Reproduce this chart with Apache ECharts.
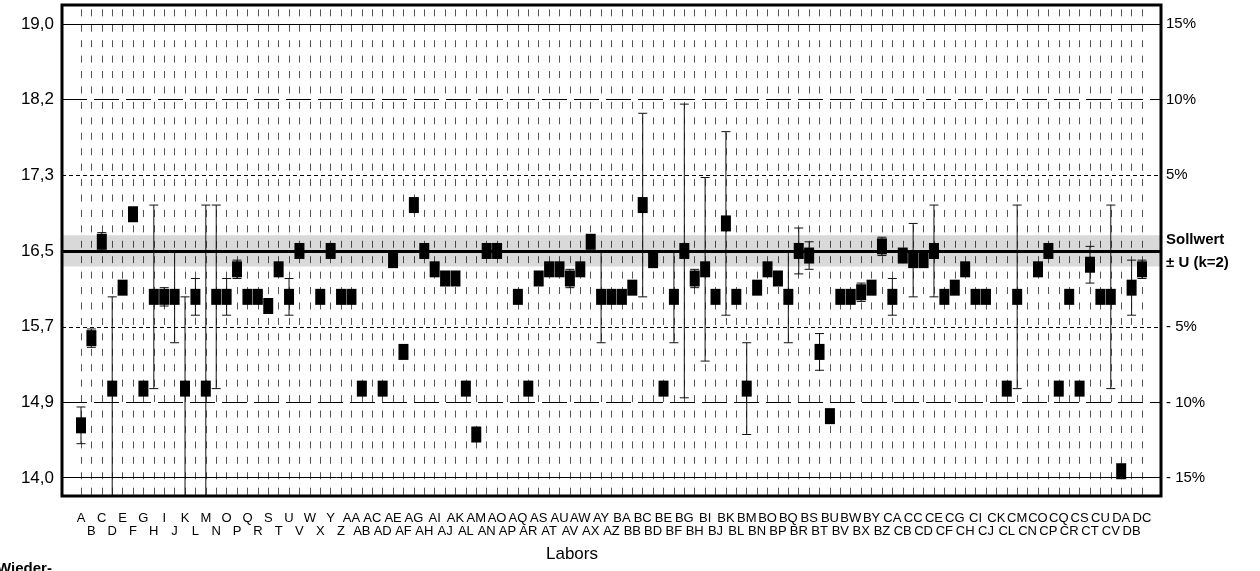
<!DOCTYPE html>
<html>
<head>
<meta charset="utf-8">
<title>Labors</title>
<script src="https://cdn.jsdelivr.net/npm/echarts@6.0.0/dist/echarts.min.js"></script>
<style>
  html, body { margin: 0; padding: 0; background: #fff; }
  #chart { width: 1260px; height: 571px; }
</style>
</head>
<body>
<div id="chart"></div>
<script>
// labs (categories)
const labs = [
  'A','B','C','D','E','F','G','H','I','J','K','L','M','N','O','P','Q','R','S','T','U','V','W','X','Y','Z',
  'AA','AB','AC','AD','AE','AF','AG','AH','AI','AJ','AK','AL','AM','AN','AO','AP','AQ','AR','AS','AT','AU','AV','AW','AX','AY','AZ',
  'BA','BB','BC','BD','BE','BF','BG','BH','BI','BJ','BK','BL','BM','BN','BO','BP','BQ','BR','BS','BT','BU','BV','BW','BX','BY','BZ',
  'CA','CB','CC','CD','CE','CF','CG','CH','CI','CJ','CK','CL','CM','CN','CO','CP','CQ','CR','CS','CT','CU','CV',
  'DA','DB','DC'
]

// measured value per lab (null = no result)
const values = [
  14.6, 15.55, 16.6, 15.0, 16.1, 16.9, 15.0, 16.0, 16.0, 16.0, 15.0, 16.0, 15.0, 16.0, 16.0, 16.3, 16.0, 16.0, 15.9, 16.3, 16.0, 16.5, null, 16.0, 16.5, 16.0,
  16.0, 15.0, null, 15.0, 16.4, 15.4, 17.0, 16.5, 16.3, 16.2, 16.2, 15.0, 14.5, 16.5, 16.5, null, 16.0, 15.0, 16.2, 16.3, 16.3, 16.2, 16.3, 16.6, 16.0, 16.0,
  16.0, 16.1, 17.0, 16.4, 15.0, 16.0, 16.5, 16.2, 16.3, 16.0, 16.8, 16.0, 15.0, 16.1, 16.3, 16.2, 16.0, 16.5, 16.45, 15.4, 14.7, 16.0, 16.0, 16.05, 16.1, 16.55,
  16.0, 16.45, 16.4, 16.4, 16.5, 16.0, 16.1, 16.3, 16.0, 16.0, null, 15.0, 16.0, null, 16.3, 16.5, 15.0, 16.0, 15.0, 16.35, 16.0, 16.0,
  14.1, 16.1, 16.3
]

// lower / upper end of the lab's uncertainty bar (null = none)
const lower = [
  14.4, 15.45, 16.5, 13.0, null, null, null, 15.0, 15.9, 15.5, 13.0, 15.8, 13.0, 15.0, 15.8, 16.2, null, null, null, null, 15.8, null, null, null, null, null,
  null, null, null, null, null, null, null, null, null, null, null, null, null, null, null, null, null, null, null, null, null, 16.1, null, null, 15.5, null,
  null, null, 16.0, null, null, 15.5, 14.9, 16.1, 15.3, null, 15.8, null, 14.5, null, null, null, 15.5, 16.25, 16.3, 15.2, null, null, null, 15.95, null, 16.45,
  15.8, null, 16.0, null, 16.0, null, null, null, null, null, null, null, 15.0, null, null, null, null, null, null, 16.15, null, 15.0,
  null, 15.8, 16.2
]
const upper = [
  14.8, 15.65, 16.7, 16.0, null, null, null, 17.0, 16.1, 16.5, 16.0, 16.2, 17.0, 17.0, 16.2, 16.4, null, null, null, null, 16.2, null, null, null, null, null,
  null, null, null, null, null, null, null, null, null, null, null, null, null, null, null, null, null, null, null, null, null, 16.3, null, null, 16.5, null,
  null, null, 18.0, null, null, 16.5, 18.1, 16.3, 17.3, null, 17.8, null, 15.5, null, null, null, 16.5, 16.75, 16.6, 15.6, null, null, null, 16.15, null, 16.65,
  16.2, null, 16.8, null, 17.0, null, null, null, null, null, null, null, 17.0, null, null, null, null, null, null, 16.55, null, 17.0,
  null, 16.4, 16.4
]

// reference value and its uncertainty
const sollwert = 16.5
const uK2 = 0.17

// deviation ticks (%) with their labels
const pctTicks = [15, 10, 5, 0, -5, -10, -15]
const leftTickLabels = ['19,0', '18,2', '17,3', '16,5', '15,7', '14,9', '14,0']
const rightTickLabels = ['15%', '10%', '5%', 'Sollwert', '- 5%', '- 10%', '- 15%']

const yMin = 13.83
const yMax = 19.18
const FONT = '"Liberation Sans", Arial, sans-serif'

const tickValues = pctTicks.map((p) => sollwert * (1 + p / 100))
const tickIndex = (v) => {
  let best = 0
  tickValues.forEach((t, i) => {
    if (Math.abs(t - v) < Math.abs(tickValues[best] - v)) best = i
  })
  return best
}

const lineStyleFor = (p) => {
  const a = Math.abs(p)
  if (a === 15) return { color: '#000', width: 1, type: 'solid' }
  if (a === 10) return { color: '#000', width: 1, type: [25, 7] }
  if (a === 5) return { color: '#000', width: 1, type: [4, 3] }
  return { color: '#000', width: 3, type: 'solid' }
}

const errData = []
labs.forEach((l, i) => {
  if (lower[i] != null && upper[i] != null) errData.push([i, lower[i], upper[i]])
})

const charts = echarts.init(document.getElementById('chart'))
charts.setOption({
  animation: false,
  backgroundColor: '#fff',
  grid: [
    { left: 62, right: 99, top: 5, bottom: 75, show: true, borderColor: '#000', borderWidth: 3, backgroundColor: 'transparent', z: 5 },
    { left: 81, right: 118, top: 5, bottom: 75 }
  ],
  xAxis: [
    { gridIndex: 0, type: 'value', min: 0, max: 1, show: false },
    {
      gridIndex: 1,
      type: 'category',
      data: labs,
      boundaryGap: false,
      axisLine: { show: false },
      axisTick: { show: false, interval: 0 },
      splitLine: {
        show: true,
        interval: 0,
        lineStyle: { color: '#555', width: 1, type: [7, 8.43], dashOffset: 11.1 }
      },
      axisLabel: {
        interval: 0,
        margin: 16,
        fontFamily: '"Liberation Sans Narrow", "Arial Narrow", ' + FONT,
        fontSize: 13,
        lineHeight: 13,
        color: '#000',
        formatter: (v, idx) => (idx % 2 ? '\n' + v : v)
      }
    }
  ],
  yAxis: [
    {
      gridIndex: 0,
      type: 'value',
      min: yMin,
      max: yMax,
      position: 'left',
      axisLine: { show: false },
      axisTick: { show: false, customValues: tickValues },
      splitLine: { show: false },
      axisLabel: {
        customValues: tickValues,
        margin: 8,
        fontFamily: FONT,
        fontSize: 17,
        color: '#000',
        formatter: (v) => leftTickLabels[tickIndex(v)]
      }
    },
    {
      gridIndex: 0,
      type: 'value',
      min: yMin,
      max: yMax,
      position: 'right',
      axisLine: { show: false },
      axisTick: { show: false, customValues: tickValues },
      splitLine: { show: false },
      axisLabel: {
        customValues: tickValues,
        margin: 5,
        fontFamily: FONT,
        fontSize: 15,
        color: '#000',
        formatter: (v) => {
          const i = tickIndex(v)
          if (pctTicks[i] === 0) return '{b|Sollwert}\n{b|± U (k=2)}'
          return rightTickLabels[i]
        },
        rich: {
          b: { fontFamily: FONT, fontSize: 15, fontWeight: 'bold', color: '#000', lineHeight: 23 }
        }
      }
    },
    { gridIndex: 1, type: 'value', min: yMin, max: yMax, show: false }
  ],
  graphic: [
    { type: 'text', left: 546, top: 546, style: { text: 'Labors', font: '17px ' + FONT, fill: '#000' } },
    { type: 'text', left: -3, top: 561, style: { text: 'Wieder-', font: 'bold 15px ' + FONT, fill: '#000' } }
  ],
  series: [
    {
      // uncertainty band of the reference value
      type: 'line',
      xAxisIndex: 0,
      yAxisIndex: 0,
      data: [],
      z: 1,
      silent: true,
      markArea: {
        silent: true,
        itemStyle: { color: 'rgba(0,0,0,0.15)' },
        data: [[{ yAxis: sollwert - uK2 }, { yAxis: sollwert + uK2 }]]
      }
    },
    {
      // horizontal deviation lines
      type: 'line',
      xAxisIndex: 0,
      yAxisIndex: 0,
      data: [],
      z: 2,
      silent: true,
      markLine: {
        silent: true,
        symbol: ['none', 'none'],
        label: { show: false },
        data: pctTicks.map((p, i) => ({ yAxis: tickValues[i], lineStyle: lineStyleFor(p) }))
      }
    },
    {
      type: 'custom',
      xAxisIndex: 1,
      yAxisIndex: 2,
      z: 3,
      encode: { x: 0, y: [1, 2] },
      data: errData,
      renderItem: (params, api) => {
        const i = api.value(0)
        const lo = api.value(1)
        const hi = api.value(2)
        const pLo = api.coord([i, Math.max(lo, yMin)])
        const pHi = api.coord([i, Math.min(hi, yMax)])
        const cap = 4.5
        const st = { stroke: '#111', lineWidth: 1 }
        const children = [
          { type: 'line', shape: { x1: pLo[0], y1: pLo[1], x2: pHi[0], y2: pHi[1] }, style: st }
        ]
        if (lo >= yMin) children.push({ type: 'line', shape: { x1: pLo[0] - cap, y1: pLo[1], x2: pLo[0] + cap, y2: pLo[1] }, style: st })
        if (hi <= yMax) children.push({ type: 'line', shape: { x1: pHi[0] - cap, y1: pHi[1], x2: pHi[0] + cap, y2: pHi[1] }, style: st })
        return { type: 'group', children }
      }
    },
    {
      type: 'scatter',
      xAxisIndex: 1,
      yAxisIndex: 2,
      z: 4,
      symbol: 'rect',
      symbolSize: [10, 16],
      itemStyle: { color: '#000', opacity: 1 },
      data: values.map((v) => (v == null ? '-' : v))
    }
  ]
})
</script>
</body>
</html>
